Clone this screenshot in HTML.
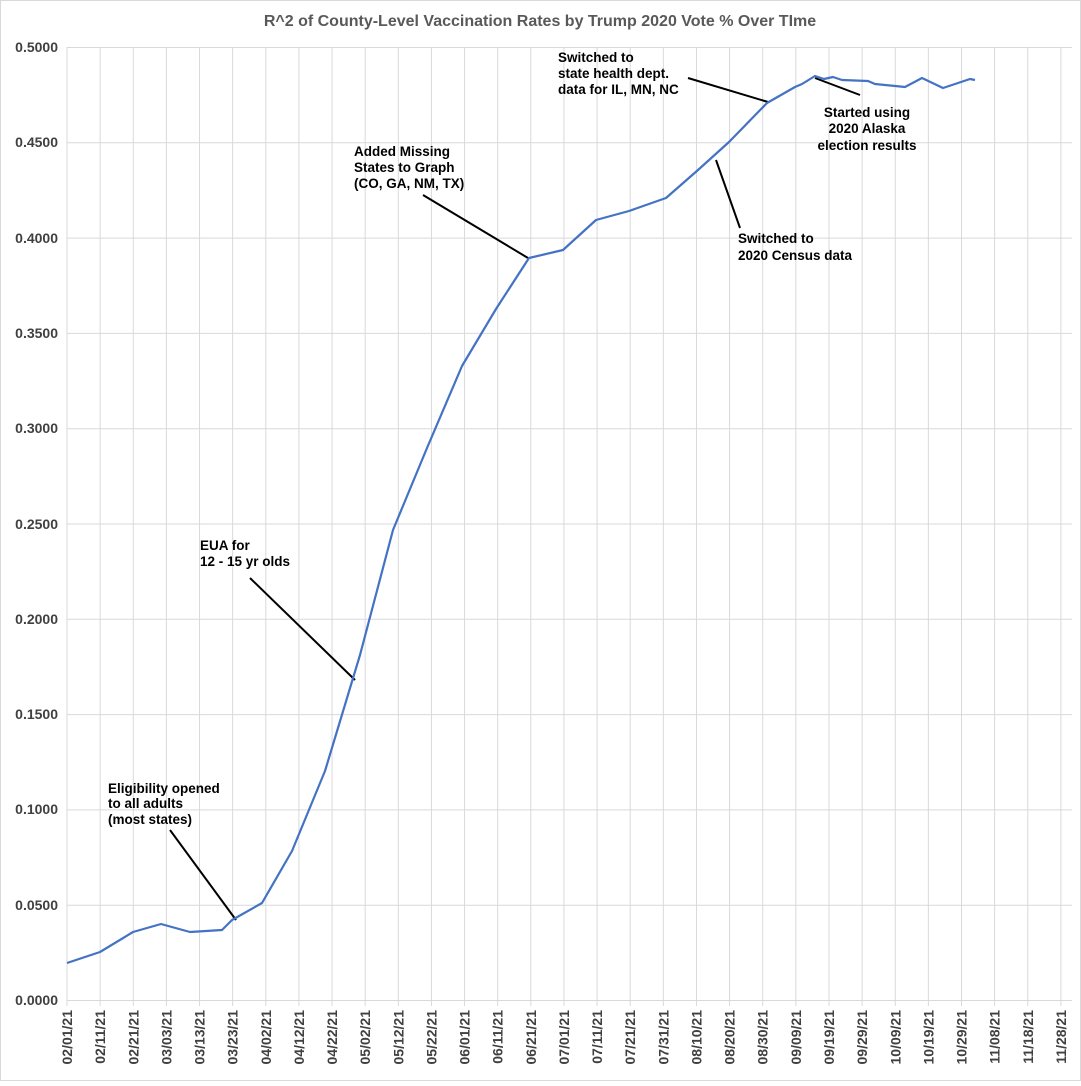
<!DOCTYPE html>
<html><head><meta charset="utf-8"><style>
body{margin:0;background:#fff}
svg text{font-family:"Liberation Sans",sans-serif}
</style></head><body>
<svg width="1081" height="1081" viewBox="0 0 1081 1081" xmlns="http://www.w3.org/2000/svg">
<rect width="1081" height="1081" fill="#fff"/>
<rect x="0.5" y="0.5" width="1080" height="1080" fill="none" stroke="#d9d9d9"/>
<text x="540" y="26" text-anchor="middle" font-size="16" font-weight="bold" fill="#595959">R^2 of County-Level Vaccination Rates by Trump 2020 Vote % Over TIme</text>
<g stroke="#d9d9d9" stroke-width="1">
<line x1="67" y1="47.5" x2="1072" y2="47.5"/><line x1="67" y1="142.8" x2="1072" y2="142.8"/>
<line x1="67" y1="238.1" x2="1072" y2="238.1"/><line x1="67" y1="333.4" x2="1072" y2="333.4"/>
<line x1="67" y1="428.7" x2="1072" y2="428.7"/><line x1="67" y1="524" x2="1072" y2="524"/>
<line x1="67" y1="619.3" x2="1072" y2="619.3"/><line x1="67" y1="714.6" x2="1072" y2="714.6"/>
<line x1="67" y1="809.9" x2="1072" y2="809.9"/><line x1="67" y1="905.2" x2="1072" y2="905.2"/>
<line x1="67" y1="1000.5" x2="1072" y2="1000.5"/>
</g>
<g id="vg" stroke="#d9d9d9" stroke-width="1"></g>
<g font-size="14" font-weight="bold" fill="#404040" text-anchor="end">
<text x="58" y="52">0.5000</text><text x="58" y="147">0.4500</text><text x="58" y="243">0.4000</text>
<text x="58" y="338">0.3500</text><text x="58" y="433">0.3000</text><text x="58" y="529">0.2500</text>
<text x="58" y="624">0.2000</text><text x="58" y="719">0.1500</text><text x="58" y="814">0.1000</text>
<text x="58" y="910">0.0500</text><text x="58" y="1005">0.0000</text>
</g>
<g id="xl" font-size="14" font-weight="bold" fill="#404040" text-anchor="end"></g>
<g stroke="#000" stroke-width="2">
<line x1="170" y1="830" x2="236" y2="920"/>
<line x1="250" y1="578" x2="355" y2="680"/>
<line x1="423" y1="195" x2="528" y2="258"/>
<line x1="688" y1="78" x2="768" y2="102"/>
<line x1="815" y1="78" x2="860" y2="95"/>
<line x1="740" y1="228" x2="716" y2="160"/>
</g>
<polyline fill="none" stroke="#4472c4" stroke-width="2.2" stroke-linejoin="round" points="67,963 100,952 133,932 161,924 190,932 222,930 232,920 262,903 292,851 325,771 360,655 393,530 427,448 462,366 496,309 529,258 563,250 596,220 629,211 666,198 698,170 729,142 767,103 795,87 802,84 815,76 824,79 833,77 842,80 868,81 875,84 905,87 922,78 943,88 970,79 975,80"/>
<g font-size="13.5" font-weight="bold" fill="#000">
<text x="108" y="793">Eligibility opened</text><text x="108" y="808">to all adults</text><text x="108" y="824">(most states)</text>
<text x="200" y="550">EUA for</text><text x="200" y="566">12 - 15 yr olds</text>
<text x="354" y="156">Added Missing</text><text x="354" y="172">States to Graph</text><text x="354" y="188">(CO, GA, NM, TX)</text>
<text x="558" y="62">Switched to</text><text x="558" y="78">state health dept.</text><text x="558" y="94">data for IL, MN, NC</text>
<text x="867" y="117" text-anchor="middle">Started using</text><text x="867" y="133" text-anchor="middle">2020 Alaska</text><text x="867" y="150" text-anchor="middle">election results</text>
<text x="738" y="243">Switched to</text><text x="738" y="260">2020 Census data</text>
</g>
</svg>
<script>
var labels=["02/01/21","02/11/21","02/21/21","03/03/21","03/13/21","03/23/21","04/02/21","04/12/21","04/22/21","05/02/21","05/12/21","05/22/21","06/01/21","06/11/21","06/21/21","07/01/21","07/11/21","07/21/21","07/31/21","08/10/21","08/20/21","08/30/21","09/09/21","09/19/21","09/29/21","10/09/21","10/19/21","10/29/21","11/08/21","11/18/21","11/28/21"];
var vg=document.getElementById('vg'),xl=document.getElementById('xl'),ns="http://www.w3.org/2000/svg";
for(var i=0;i<labels.length;i++){var x=67+i*33.13;
var l=document.createElementNS(ns,'line');l.setAttribute('x1',x);l.setAttribute('x2',x);l.setAttribute('y1',47);l.setAttribute('y2',1006);vg.appendChild(l);
var t=document.createElementNS(ns,'text');t.setAttribute('transform','translate('+(x+5)+',1010) rotate(-90)');t.textContent=labels[i];xl.appendChild(t);}
</script>
</body></html>
